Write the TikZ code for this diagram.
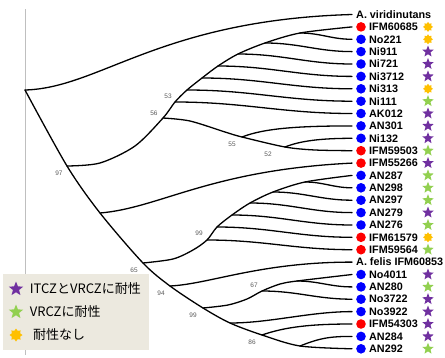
\documentclass[tikz,border=0pt]{standalone}
\usepackage{fontspec}
\setmainfont{Liberation Sans}
\newfontfamily\jpfont{Noto Sans CJK JP}
\usetikzlibrary{positioning}
\usetikzlibrary{shapes.geometric}
\definecolor{itczpurple}{HTML}{7030A0}
\definecolor{vrczgreen}{HTML}{92D050}
\definecolor{noresorange}{HTML}{FFC000}
\definecolor{legendbg}{HTML}{ECE9DF}
\definecolor{bsgray}{HTML}{595959}
\tikzset{
 branch/.style={line width=1.3pt,line cap=round},
 leafdot/.style={circle,inner sep=0pt,minimum size=9.6pt},
 leaflabel/.style={anchor=west,inner sep=0pt,font=\fontsize{10.8}{12}\selectfont\bfseries},
 bothres/.style={star,star points=5,star point ratio=2.3,fill=itczpurple,inner sep=0pt,minimum size=12pt},
 vrczres/.style={bothres,fill=vrczgreen},
 nores/.style={star,star points=8,star point ratio=1.45,fill=noresorange,inner sep=0pt,minimum size=10pt},
 bs/.style={font=\fontsize{6.5}{7}\selectfont,text=bsgray,inner sep=0pt},
 leglabel/.style={anchor=west,inner sep=0pt,font=\jpfont\fontsize{13}{14}\selectfont}
}
\begin{document}
\begin{tikzpicture}[x=1pt,y=-1pt]
 \useasboundingbox (0,0) rectangle (445,357);
 \draw[gray!50,line width=0.6pt] (25,9) -- (25,355);

 % inner nodes
 \coordinate (root) at (25,90);
 \coordinate (n97) at (67,166);
 \coordinate (na) at (100,213);
 \coordinate (n65) at (143,263);
 \coordinate (n94) at (170,286);
 \coordinate (n99b) at (203,308);
 \coordinate (nb) at (230,323);
 \coordinate (n86) at (262,335);
 \coordinate (n86a) at (300,346);
 \coordinate (n56) at (163,118);
 \coordinate (n53) at (175,102);
 \coordinate (u3) at (187,90);
 \coordinate (u4) at (202,78);
 \coordinate (u5) at (218,66);
 \coordinate (u6) at (238,54);
 \coordinate (u7) at (265,43);
 \coordinate (u8) at (300,33);
 \coordinate (n55) at (242,137);
 \coordinate (n52) at (285,147);
 \coordinate (n99a) at (207,240);
 \coordinate (v2) at (217,227);
 \coordinate (v3) at (232,215);
 \coordinate (v4) at (250,203);
 \coordinate (v5) at (273,192);
 \coordinate (v6) at (305,182);
 \coordinate (n67) at (262,291);
 \coordinate (n67a) at (297,281);

 % leaves
 \path (352,14.5) coordinate (vir) ++(4,0) node[leaflabel] (virt) {A. viridinutans};
 \path (352,26.9) coordinate (IFM60685) ++(9,0) node[leafdot,fill=red] (IFM60685d) {} ++(8,0) node[leaflabel] (IFM60685t) {IFM60685} ++(59,0) node[nores] (IFM60685s) {};
 \path (352,39.3) coordinate (No221) ++(9,0) node[leafdot,fill=blue] (No221d) {} ++(8,0) node[leaflabel] (No221t) {No221} ++(59,0) node[nores] (No221s) {};
 \path (352,51.6) coordinate (Ni911) ++(9,0) node[leafdot,fill=blue] (Ni911d) {} ++(8,0) node[leaflabel] (Ni911t) {Ni911} ++(59,0) node[bothres] (Ni911s) {};
 \path (352,64.0) coordinate (Ni721) ++(9,0) node[leafdot,fill=blue] (Ni721d) {} ++(8,0) node[leaflabel] (Ni721t) {Ni721} ++(59,0) node[bothres] (Ni721s) {};
 \path (352,76.4) coordinate (Ni3712) ++(9,0) node[leafdot,fill=blue] (Ni3712d) {} ++(8,0) node[leaflabel] (Ni3712t) {Ni3712} ++(59,0) node[bothres] (Ni3712s) {};
 \path (352,88.8) coordinate (Ni313) ++(9,0) node[leafdot,fill=blue] (Ni313d) {} ++(8,0) node[leaflabel] (Ni313t) {Ni313} ++(59,0) node[nores] (Ni313s) {};
 \path (352,101.2) coordinate (Ni111) ++(9,0) node[leafdot,fill=blue] (Ni111d) {} ++(8,0) node[leaflabel] (Ni111t) {Ni111} ++(59,0) node[vrczres] (Ni111s) {};
 \path (352,113.5) coordinate (AK012) ++(9,0) node[leafdot,fill=blue] (AK012d) {} ++(8,0) node[leaflabel] (AK012t) {AK012} ++(59,0) node[bothres] (AK012s) {};
 \path (352,125.9) coordinate (AN301) ++(9,0) node[leafdot,fill=blue] (AN301d) {} ++(8,0) node[leaflabel] (AN301t) {AN301} ++(59,0) node[bothres] (AN301s) {};
 \path (352,138.3) coordinate (Ni132) ++(9,0) node[leafdot,fill=blue] (Ni132d) {} ++(8,0) node[leaflabel] (Ni132t) {Ni132} ++(59,0) node[bothres] (Ni132s) {};
 \path (352,150.7) coordinate (IFM59503) ++(9,0) node[leafdot,fill=red] (IFM59503d) {} ++(8,0) node[leaflabel] (IFM59503t) {IFM59503} ++(59,0) node[vrczres] (IFM59503s) {};
 \path (352,163.1) coordinate (IFM55266) ++(9,0) node[leafdot,fill=red] (IFM55266d) {} ++(8,0) node[leaflabel] (IFM55266t) {IFM55266} ++(59,0) node[bothres] (IFM55266s) {};
 \path (352,175.4) coordinate (AN287) ++(9,0) node[leafdot,fill=blue] (AN287d) {} ++(8,0) node[leaflabel] (AN287t) {AN287} ++(59,0) node[vrczres] (AN287s) {};
 \path (352,187.8) coordinate (AN298) ++(9,0) node[leafdot,fill=blue] (AN298d) {} ++(8,0) node[leaflabel] (AN298t) {AN298} ++(59,0) node[vrczres] (AN298s) {};
 \path (352,200.2) coordinate (AN297) ++(9,0) node[leafdot,fill=blue] (AN297d) {} ++(8,0) node[leaflabel] (AN297t) {AN297} ++(59,0) node[vrczres] (AN297s) {};
 \path (352,212.6) coordinate (AN279) ++(9,0) node[leafdot,fill=blue] (AN279d) {} ++(8,0) node[leaflabel] (AN279t) {AN279} ++(59,0) node[bothres] (AN279s) {};
 \path (352,225.0) coordinate (AN276) ++(9,0) node[leafdot,fill=blue] (AN276d) {} ++(8,0) node[leaflabel] (AN276t) {AN276} ++(59,0) node[vrczres] (AN276s) {};
 \path (352,237.3) coordinate (IFM61579) ++(9,0) node[leafdot,fill=red] (IFM61579d) {} ++(8,0) node[leaflabel] (IFM61579t) {IFM61579} ++(59,0) node[nores] (IFM61579s) {};
 \path (352,249.7) coordinate (IFM59564) ++(9,0) node[leafdot,fill=red] (IFM59564d) {} ++(8,0) node[leaflabel] (IFM59564t) {IFM59564} ++(59,0) node[vrczres] (IFM59564s) {};
 \path (352,262.1) coordinate (fel) ++(4,0) node[leaflabel] (felt) {A. felis IFM60853};
 \path (352,274.5) coordinate (No4011) ++(9,0) node[leafdot,fill=blue] (No4011d) {} ++(8,0) node[leaflabel] (No4011t) {No4011} ++(59,0) node[bothres] (No4011s) {};
 \path (352,286.9) coordinate (AN280) ++(9,0) node[leafdot,fill=blue] (AN280d) {} ++(8,0) node[leaflabel] (AN280t) {AN280} ++(59,0) node[vrczres] (AN280s) {};
 \path (352,299.2) coordinate (No3722) ++(9,0) node[leafdot,fill=blue] (No3722d) {} ++(8,0) node[leaflabel] (No3722t) {No3722} ++(59,0) node[bothres] (No3722s) {};
 \path (352,311.6) coordinate (No3922) ++(9,0) node[leafdot,fill=blue] (No3922d) {} ++(8,0) node[leaflabel] (No3922t) {No3922} ++(59,0) node[bothres] (No3922s) {};
 \path (352,324.0) coordinate (IFM54303) ++(9,0) node[leafdot,fill=red] (IFM54303d) {} ++(8,0) node[leaflabel] (IFM54303t) {IFM54303} ++(59,0) node[bothres] (IFM54303s) {};
 \path (352,336.4) coordinate (AN284) ++(9,0) node[leafdot,fill=blue] (AN284d) {} ++(8,0) node[leaflabel] (AN284t) {AN284} ++(59,0) node[bothres] (AN284s) {};
 \path (352,348.8) coordinate (AN292) ++(9,0) node[leafdot,fill=blue] (AN292d) {} ++(8,0) node[leaflabel] (AN292t) {AN292} ++(59,0) node[vrczres] (AN292s) {};

 % branches
 \draw[branch] (root) .. controls (100,88) and (160,20) .. (vir);
 \draw[branch] plot[smooth,tension=0.5] coordinates {(root) (n97) (na) (n65) (n94) (n99b) (nb) (n86) (n86a) (AN292)};
 \draw[branch] plot[smooth,tension=0.5] coordinates {(n97) (100,163) (135,146) (n56) (n53) (u3) (u4) (u5) (u6) (u7) (u8) (IFM60685)};
 \draw[branch] plot[smooth,tension=0.5] coordinates {(n56) (190,121) (225,132) (n55) (n52) (315,150) (IFM59503)};
 \draw[branch] plot[smooth,tension=0.5] coordinates {(n65) (173,259) (193,250) (n99a) (v2) (v3) (v4) (v5) (v6) (AN287)};
 \draw[branch] plot[smooth,tension=0.5] coordinates {(n99b) (228,305) (247,299) (n67) (280,284) (n67a) (No4011)};
 \draw[branch] (n53) to[out=0,in=180] (AK012);
 \draw[branch] (u3) to[out=0,in=180] (Ni111);
 \draw[branch] (u4) to[out=0,in=180] (Ni313);
 \draw[branch] (u5) to[out=0,in=180] (Ni3712);
 \draw[branch] (u6) to[out=0,in=180] (Ni721);
 \draw[branch] (u7) to[out=0,in=180] (Ni911);
 \draw[branch] (u8) to[out=0,in=180] (No221);
 \draw[branch] (n55) .. controls (265,128) and (300,126) .. (AN301);
 \draw[branch] (n52) .. controls (300,141) and (320,138.3) .. (Ni132);
 \draw[branch] (na) .. controls (160,208) and (210,170) .. (IFM55266);
 \draw[branch] (n99a) to[out=0,in=180] (IFM59564);
 \draw[branch] (v2) to[out=0,in=180] (IFM61579);
 \draw[branch] (v3) to[out=0,in=180] (AN276);
 \draw[branch] (v4) to[out=0,in=180] (AN279);
 \draw[branch] (v5) to[out=0,in=180] (AN297);
 \draw[branch] (v6) to[out=0,in=180] (AN298);
 \draw[branch] (n94) .. controls (210,284) and (260,262.1) .. (fel);
 \draw[branch] (n67) to[out=0,in=180] (No3722);
 \draw[branch] (n67a) to[out=0,in=180] (AN280);
 \draw[branch] (nb) .. controls (270,323) and (310,311.6) .. (No3922);
 \draw[branch] (n86) .. controls (285,327) and (310,324) .. (IFM54303);
 \draw[branch] (n86a) .. controls (320,338) and (330,336.4) .. (AN284);

 % bootstrap values
 \node[bs] (b97) at (59,173) {97};
 \node[bs] (b56) at (154,113) {56};
 \node[bs] (b53) at (168,96) {53};
 \node[bs] (b55) at (232,144) {55};
 \node[bs] (b52) at (268,154) {52};
 \node[bs] (b99a) at (199,233) {99};
 \node[bs] (b65) at (134,270) {65};
 \node[bs] (b94) at (161,293) {94};
 \node[bs] (b99b) at (193,315) {99};
 \node[bs] (b67) at (254,285) {67};
 \node[bs] (b86) at (252,342) {86};

 % legend
 \node[fill=legendbg,minimum width=146pt,minimum height=76pt,anchor=north west,inner sep=0pt] (legend) at (3,274) {};
 \node[bothres,minimum size=15pt] (lg1) at (16,289) {};
 \node[leglabel,right=9pt of lg1] (lg1t) {ITCZとVRCZに耐性};
 \node[vrczres,minimum size=15pt] (lg2) at (16,312) {};
 \node[leglabel,right=9pt of lg2] (lg2t) {VRCZに耐性};
 \node[nores,minimum size=13pt] (lg3) at (16,335) {};
 \node[leglabel,right=10pt of lg3] (lg3t) {耐性なし};
\end{tikzpicture}
\end{document}
